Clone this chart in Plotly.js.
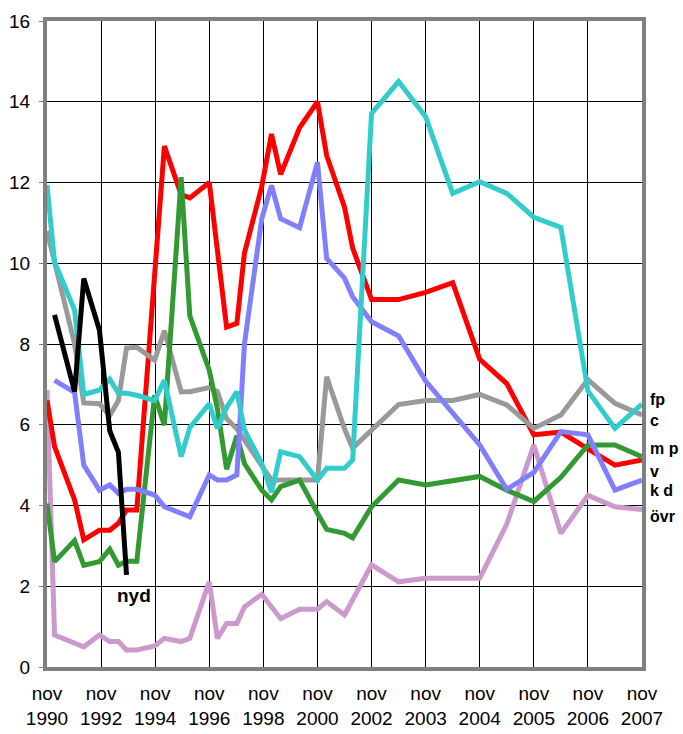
<!DOCTYPE html>
<html><head><meta charset="utf-8">
<script src="https://cdn.plot.ly/plotly-3.0.1.min.js"></script>
<style>html,body{margin:0;padding:0;background:#fff}#chart{width:683px;height:734px}</style>
</head><body><div id="chart"></div>
<script>
// poll positions on the category-like axis (0 = nov 1990 ... 11 = nov 2007)
const pollPos = [0,0.14,0.51,0.68,0.97,1.16,1.32,1.47,1.66,1.99,2.17,2.48,2.64,3.0,3.15,3.32,3.51,3.65,3.97,4.15,4.32,4.67,5.0,5.17,5.5,5.65,6.0,6.5,7.0,7.5,8.0,8.5,9.0,9.5,10.0,10.5,11.0];
const tickVals = [0,1,2,3,4,5,6,7,8,9,10,11];
const tickText = ['nov<br>1990','nov<br>1992','nov<br>1994','nov<br>1996','nov<br>1998','nov<br>2000','nov<br>2002','nov<br>2003','nov<br>2004','nov<br>2005','nov<br>2006','nov<br>2007'];

const ovr = [6.86,0.79,null,0.5,0.79,0.63,0.63,0.42,0.42,0.52,0.71,0.63,0.71,2.11,0.71,1.08,1.08,1.49,1.8,null,1.2,1.43,1.43,1.62,1.29,null,2.53,2.11,2.2,2.2,2.2,3.54,5.5,3.31,4.25,3.97,3.9];
const v   = [6.6,5.46,4.14,3.15,3.39,3.39,3.56,3.89,3.89,null,12.9,11.7,11.62,12.0,10.43,8.42,8.51,10.25,11.9,13.2,12.2,13.36,14.0,12.67,11.39,10.38,9.1,9.1,9.28,9.52,7.62,7.02,5.75,5.82,5.4,5.0,5.13];
const c   = [10.8,10.0,8.0,6.54,6.52,6.23,6.6,7.9,7.92,7.6,8.33,6.82,6.82,6.92,6.82,6.15,5.9,null,null,4.63,4.63,4.63,4.63,7.19,5.9,5.42,null,6.5,6.6,6.6,6.75,6.49,5.91,6.24,7.12,6.53,6.24];
const mp  = [4.05,2.61,3.13,2.52,2.61,2.92,2.52,2.62,2.62,6.73,5.99,12.13,8.7,7.35,6.4,4.9,5.73,5.04,4.38,4.14,4.47,4.63,3.81,3.41,3.31,3.2,3.97,4.63,4.51,4.62,4.72,4.38,4.1,4.7,5.5,5.5,5.21];
const kd  = [null,7.1,6.8,5.0,4.38,4.51,4.3,4.4,4.4,4.26,3.97,null,3.72,4.76,4.63,4.63,4.76,8.0,11.1,11.93,11.1,10.88,12.5,10.12,9.63,9.17,8.55,8.2,7.08,6.28,5.5,4.4,4.82,5.83,5.75,4.38,4.63];
const fp  = [11.94,10.03,8.84,6.75,6.86,7.13,6.78,6.78,6.73,6.6,7.1,5.21,5.93,6.52,5.91,6.43,6.82,5.87,5.04,4.33,5.33,5.21,4.63,4.92,4.92,5.13,13.71,14.5,13.63,11.73,12.02,11.73,11.14,10.89,6.84,5.91,6.51];
const nyd = [null,8.72,6.82,9.62,8.34,5.85,5.32,2.28];

const seriesNames = ['övr','v','c','mp','kd','fp','nyd'];
const seriesData = [ovr, v, c, mp, kd, fp, nyd];
const seriesColors = ['#CC99CC','#FF0000','#999999','#339933','#8080FF','#33CCCC','#000000'];

const traces = seriesData.map((ys,i)=>({
  type:'scatter', mode:'lines', name:seriesNames[i],
  x: pollPos.slice(0, ys.length), y: ys, connectgaps:true,
  line:{color:seriesColors[i], width:5, shape:'linear'}, hoverinfo:'skip'
}));

// end labels
const labelText = ['fp','c','m p','v','k d','övr','nyd'];
const labelY    = [6.62,6.1,5.4,4.85,4.38,3.72,1.78];
const font = 'Liberation Sans, Arial, sans-serif';
const annotations = labelText.map((t,i)=>{
  if (t==='nyd') return {x:1.6, y:labelY[i], xref:'x', yref:'y', text:'<b>'+t+'</b>', showarrow:false, xanchor:'center', yanchor:'middle', font:{family:font,size:19,color:'#000'}};
  return {x:1, xshift:6, y:labelY[i], xref:'paper', yref:'y', text:'<b>'+t+'</b>', showarrow:false, xanchor:'left', yanchor:'middle', font:{family:font,size:16,color:'#000'}};
});

const layout = {
  width:683, height:734,
  margin:{l:47, r:41, t:21, b:67},
  paper_bgcolor:'#fff', plot_bgcolor:'#fff',
  showlegend:false,
  font:{family:font, size:19, color:'#000'},
  xaxis:{range:[0,11], tickmode:'array', tickvals:tickVals, ticktext:tickText,
    showgrid:true, gridcolor:'#000', gridwidth:1, zeroline:false,
    showline:true, linecolor:'#808080', linewidth:4, mirror:true,
    ticks:'', ticklabelstandoff:6, tickfont:{family:font,size:19,color:'#000'}, fixedrange:true},
  yaxis:{range:[0,16], tickmode:'array', tickvals:[0,2,4,6,8,10,12,14,16],
    showgrid:true, gridcolor:'#000', gridwidth:1, zeroline:false,
    showline:true, linecolor:'#808080', linewidth:4, mirror:true,
    ticks:'outside', ticklen:4, tickcolor:'#808080', tickwidth:1, ticklabelstandoff:5,
    tickfont:{family:font,size:19,color:'#000'}, fixedrange:true},
  annotations: annotations
};

Plotly.newPlot('chart', traces, layout, {staticPlot:true, displayModeBar:false});
</script>
</body></html>
